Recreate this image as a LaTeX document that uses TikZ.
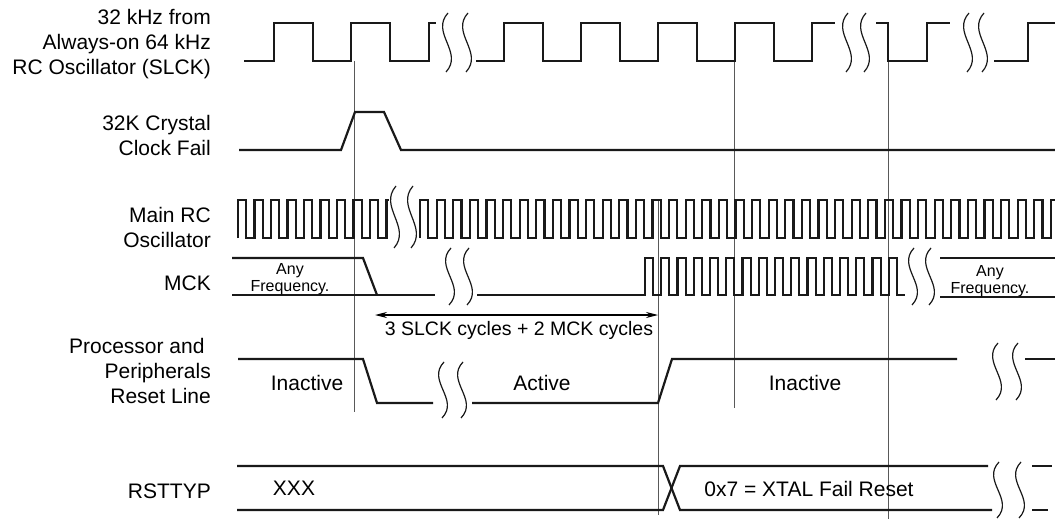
\documentclass[tikz,border=0pt]{standalone}
\usepackage{fontspec}
\setmainfont{Liberation Sans}
\usetikzlibrary{arrows, arrows.meta, positioning, calc}
\tikzstyle{sig} = [line width=2.2pt, line join=miter, black!90]
\tikzstyle{marker} = [line width=0.9pt, black!65]
\tikzstyle{cut} = [line width=1.2pt, black!90]
\tikzstyle{lbl} = [align=right, anchor=east, inner sep=0pt, font=\fontsize{21}{25}\selectfont]
\tikzstyle{txt} = [inner sep=0pt, anchor=base, font=\fontsize{21}{25}\selectfont]
\tikzstyle{small} = [align=center, inner sep=0pt, font=\fontsize{16}{17.5}\selectfont]
\tikzstyle{arrow} = [line width=1.1pt, <->, >={Stealth[length=12pt,width=6pt]}]

% break mark: x, top, bottom
\newcommand{\wavecut}[3]{%
  \draw[cut] ({#1+1},#2) .. controls ({#1-17},{#2+(#3-#2)/3}) and ({#1+17},{#2+2*(#3-#2)/3}) .. ({#1-1},#3);}

\begin{document}
\begin{tikzpicture}[x=1pt, y=-1pt]
  \useasboundingbox (0,0) rectangle (1055,519);

  % signal names
  \node[lbl] (slck) at (211,44) {32 kHz from\\Always-on 64 kHz\\RC Oscillator (SLCK)};
  \node[lbl] (xfail) at (211,135) {32K Crystal\\Clock Fail};
  \node[lbl] (mainrc) at (211,227) {Main RC\\Oscillator};
  \node[lbl] (mck) at (211,283) {MCK};
  \node[lbl] (rstline) at (211,371) {Processor and\hspace*{0.3em}\\Peripherals\\Reset Line};
  \node[lbl] (rsttyp) at (211,491) {RSTTYP};

  % markers
  \draw[marker] (354,61) -- (354,412);
  \draw[marker] (658,200) -- (658,515);
  \draw[marker] (734,61) -- (734,408);
  \draw[marker] (888,61) -- (888,519);

  % SLCK
  \draw[sig] (244,61) -- (274,61) -- (274,23) -- (313,23) -- (313,61) -- (351,61)
    -- (351,23) -- (390,23) -- (390,61) -- (429,61) -- (429,23) -- (436,23);
  \wavecut{447}{13}{72} \wavecut{467}{13}{72}
  \draw[sig] (476,61) foreach \i in {0,...,3} {
      -- ({504+77*\i},61) -- ({504+77*\i},23) -- ({543+77*\i},23) -- ({543+77*\i},61) }
    -- (812,61) -- (812,23) -- (835,23);
  \wavecut{847}{13}{72} \wavecut{865}{13}{72}
  \draw[sig] (876,23) -- (888,23) -- (888,61) -- (927,61) -- (927,23) -- (950,23);
  \wavecut{968}{13}{72} \wavecut{983}{13}{72}
  \draw[sig] (994,61) -- (1028,61) -- (1028,23) -- (1055,23);

  % crystal fail
  \draw[sig] (239,150) -- (341,150) -- (355,112) -- (384,112) -- (401,150) -- (1055,150);

  % main RC oscillator
  \draw[sig] (238,238) foreach \i in {0,...,8} {
      -- ({238+16.5*\i},238) -- ({238+16.5*\i},200) -- ({246.25+16.5*\i},200) -- ({246.25+16.5*\i},238) }
    -- (386.5,238) -- (386.5,200) -- (389,200);
  \wavecut{395}{186}{248} \wavecut{412}{186}{248}
  \draw[sig] (420,238) foreach \i in {0,...,37} {
      -- ({420+16.6*\i},238) -- ({420+16.6*\i},200) -- ({428.3+16.6*\i},200) -- ({428.3+16.6*\i},238) }
    -- (1050.8,238) -- (1050.8,200) -- (1055,200);

  % MCK
  \draw[sig] (232,258) -- (363,258) -- (377,295);
  \draw[sig] (232,295) -- (435,295);
  \node[small] (anyl) at (290,279) {Any\\Frequency.};
  \wavecut{450}{248}{305} \wavecut{468}{248}{305}
  \draw[sig] (477,295) foreach \i in {0,...,15} {
      -- ({645+16.25*\i},295) -- ({645+16.25*\i},258) -- ({653.1+16.25*\i},258) -- ({653.1+16.25*\i},295) }
    -- (905,295);
  \wavecut{913}{248}{305} \wavecut{930}{248}{305}
  \draw[sig] (940,258) -- (1055,258);
  \draw[sig] (940,297) -- (1055,297);
  \node[small] (anyr) at (990,281) {Any\\Frequency.};

  % delay
  \coordinate (dstart) at (375,315);
  \coordinate (dend) at (658,315);
  \draw[arrow] (dstart) -- (dend);
  \node[inner sep=0pt, font=\fontsize{19.5}{22}\selectfont] (delay) at (519,330) {3 SLCK cycles + 2 MCK cycles};

  % reset line
  \draw[sig] (238,359) -- (363,359) -- (377,403) -- (433,403);
  \wavecut{443}{362}{418} \wavecut{462}{362}{418}
  \draw[sig] (472,403) -- (658,403) -- (672,359) -- (957,359);
  \wavecut{997}{343}{400} \wavecut{1017}{343}{400}
  \draw[sig] (1025,359) -- (1055,359);
  \node[txt] (inact1) at (307,390) {Inactive};
  \node[txt] (act) at (542,390) {Active};
  \node[txt] (inact2) at (805,390) {Inactive};

  % RSTTYP
  \draw[sig] (237,466) -- (663,466) -- (680,510) -- (992,510);
  \draw[sig] (237,510) -- (663,510) -- (680,466) -- (988,466);
  \wavecut{998}{462}{518} \wavecut{1020}{462}{518}
  \draw[sig] (1032,466) -- (1052,466);
  \draw[sig] (1032,510) -- (1048,510);
  \node[txt] (xxx) at (294,495) {XXX};
  \node[txt] (xtal) at (809,496) {0x7 = XTAL Fail Reset};
\end{tikzpicture}
\end{document}
